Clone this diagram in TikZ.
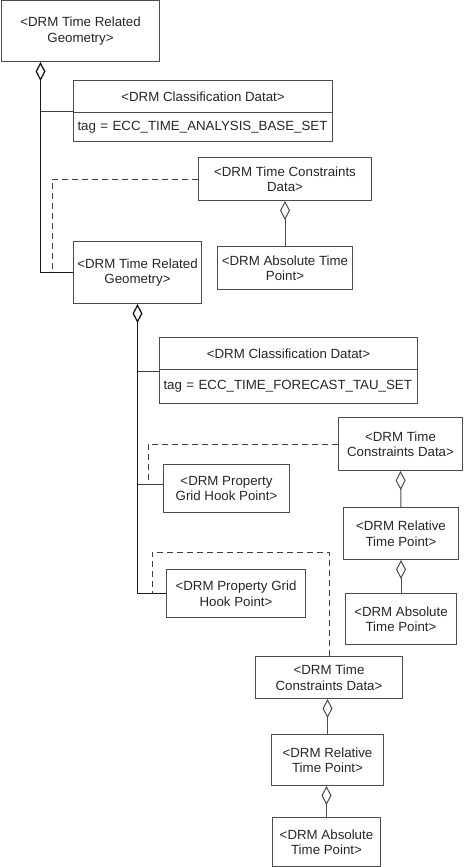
\documentclass[tikz,border=0pt]{standalone}
\usepackage{fontspec}
\setmainfont{Liberation Sans}
\usetikzlibrary{arrows.meta}

\begin{document}
\begin{tikzpicture}[x=1pt,y=-1pt]
\tikzstyle{box} = [rectangle, anchor=north west, draw=black!70, line width=1pt, inner sep=2pt, align=center, text=black!85, font=\fontsize{13.3}{15.5}\selectfont]
\tikzstyle{tagbox} = [box, align=left, inner xsep=4pt]
\tikzstyle{line} = [draw=black!75, line width=1pt]
\tikzstyle{agg} = [draw=black!90, line width=1.3pt, -{Diamond[open, length=19pt, width=10pt]}]
\tikzstyle{agg2} = [draw=black!70, line width=1pt, -{Diamond[open, length=19pt, width=10pt]}]
\tikzstyle{dep} = [draw=black!75, line width=1pt, dash pattern=on 6pt off 4pt]
\useasboundingbox (0,0) rectangle (463,867);
\node (trg1) [box, minimum width=158, minimum height=60.5] at (1,0.5) {<DRM Time Related\\Geometry>};
\node (cls1) [box, minimum width=259, minimum height=32] at (73,80) {<DRM Classification Datat>};
\node (cls1tag) [tagbox, text width=251, minimum height=29] at (73,112) {tag = ECC\_TIME\_ANALYSIS\_BASE\_SET};
\node (tcd1) [box, minimum width=173, minimum height=43] at (198,157) {<DRM Time Constraints\\Data>};
\node (abs1) [box, minimum width=135, minimum height=43] at (217,246) {<DRM Absolute Time\\Point>};
\node (trg2) [box, minimum width=128, minimum height=62] at (73,241) {<DRM Time Related\\Geometry>};
\node (cls2) [box, minimum width=258, minimum height=32] at (159,337) {<DRM Classification Datat>};
\node (cls2tag) [tagbox, text width=250, minimum height=34] at (159,369) {tag = ECC\_TIME\_FORECAST\_TAU\_SET};
\node (tcd2) [box, minimum width=124, minimum height=53] at (338,417) {<DRM Time\\Constraints Data>};
\node (pghp1) [box, minimum width=126, minimum height=48] at (163,464) {<DRM Property\\Grid Hook Point>};
\node (rel1) [box, minimum width=115, minimum height=52] at (343,507) {<DRM Relative\\Time Point>};
\node (abs2) [box, minimum width=111, minimum height=51] at (345,593) {<DRM Absolute\\Time Point>};
\node (pghp2) [box, minimum width=139, minimum height=48] at (166,569) {<DRM Property Grid\\Hook Point>};
\node (tcd3) [box, minimum width=147, minimum height=42] at (255,656) {<DRM Time\\Constraints Data>};
\node (rel2) [box, minimum width=112, minimum height=51] at (271,734) {<DRM Relative\\Time Point>};
\node (abs3) [box, minimum width=108, minimum height=49] at (272,817) {<DRM Absolute\\Time Point>};
\coordinate (spine1) at ([xshift=-40pt]trg1.south);
\draw [agg] (trg2.west) -| (spine1);
\draw [line] ([yshift=1.5pt]cls1.south west) -- ([yshift=1.5pt]cls1.south west -| spine1);
\draw [agg] (pghp2.west) -| (trg2.south);
\draw [line] ([yshift=-1pt]cls2.south west) -- ([yshift=-1pt]cls2.south west -| trg2.south);
\draw [line] ([yshift=4pt]pghp1.west) -- ([yshift=4pt]pghp1.west -| trg2.south);
\draw [dep] (tcd1.west) -| ([xshift=-21pt]trg2.west);
\draw [dep] (tcd2.west) -| ([xshift=-15pt,yshift=4pt]pghp1.west);
\draw [dep] (tcd3.north) -- ++(0,-104) -| ([xshift=-14pt]pghp2.west);
\draw [agg2] (abs1.north) -- (tcd1.south);
\draw [agg2] (rel1.north) -- (tcd2.south);
\draw [agg2] (abs2.north) -- (rel1.south);
\draw [agg2] (rel2.north) -- (rel2.north |- tcd3.south);
\draw [agg2] (abs3.north) -- (abs3.north |- rel2.south);
\end{tikzpicture}
\end{document}
